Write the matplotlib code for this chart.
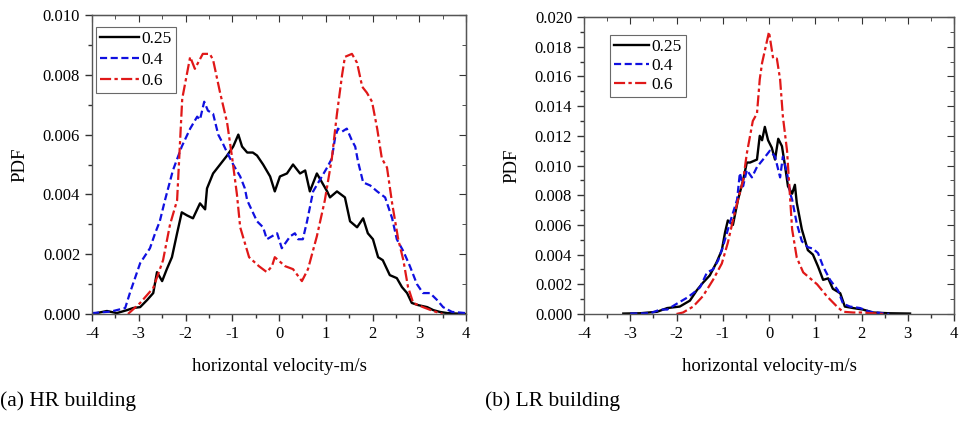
import matplotlib
matplotlib.use("Agg")
import matplotlib.pyplot as plt
from matplotlib.ticker import MultipleLocator, FormatStrFormatter

plt.rcParams['font.family'] = ['Liberation Serif', 'DejaVu Serif']
plt.rcParams['axes.unicode_minus'] = False

# ---------------- data: (a) HR building ----------------
hr_x_025 = [-4.0, -3.68, -3.47, -3.25, -3.12, -2.97, -2.82, -2.69, -2.61, -2.5, -2.4, -2.29, -2.18, -2.08,
            -1.97, -1.84, -1.69, -1.58, -1.54, -1.41, -1.26, -1.11, -0.98, -0.87, -0.79, -0.68, -0.56,
            -0.47, -0.34, -0.19, -0.09, 0.02, 0.17, 0.3, 0.45, 0.56, 0.66, 0.81, 0.92, 1.03, 1.09,
            1.24, 1.41, 1.52, 1.67, 1.8, 1.9, 2.01, 2.12, 2.22, 2.37, 2.52, 2.63, 2.74, 2.84, 2.97,
            3.17, 3.3, 3.44, 3.6, 4.0]
hr_y_025 = [0.0, 0.0001, 0.00003, 0.00013, 0.0002, 0.00023, 0.00047, 0.0007, 0.0014, 0.0011, 0.0015, 0.0019,
            0.0027, 0.0034, 0.0033, 0.0032, 0.0037, 0.0035, 0.0042, 0.0047, 0.005, 0.0053, 0.0056, 0.006,
            0.0056, 0.0054, 0.0054, 0.0053, 0.005, 0.0046, 0.0041, 0.0046, 0.0047, 0.005, 0.0047, 0.0048,
            0.0041, 0.0047, 0.0044, 0.0041, 0.0039, 0.0041, 0.0039, 0.0031, 0.0029, 0.0032, 0.0027, 0.0025,
            0.0019, 0.0018, 0.0013, 0.0012, 0.0009, 0.0007, 0.00037, 0.0003, 0.00023, 0.00013, 0.00007,
            0.00003, 0.0]

hr_x_04 = [-4.0, -3.6, -3.29, -3.19, -2.97, -2.76, -2.65, -2.55, -2.44, -2.27, -2.08, -1.9, -1.75, -1.69,
           -1.6, -1.52, -1.41, -1.3, -1.2, -1.11, -0.98, -0.83, -0.73, -0.68, -0.47, -0.34, -0.26, -0.04,
           0.06, 0.24, 0.34, 0.41, 0.51, 0.6, 0.73, 0.88, 1.03, 1.13, 1.2, 1.26, 1.35, 1.45, 1.56, 1.63,
           1.69, 1.8, 1.95, 2.1, 2.27, 2.42, 2.52, 2.66, 2.8, 2.95, 3.08, 3.23, 3.38, 3.51, 3.7, 4.0]
hr_y_04 = [0.00003, 0.00008, 0.0002, 0.0007, 0.0017, 0.0022, 0.0027, 0.0031, 0.0038, 0.0048, 0.0056, 0.0062,
           0.0066, 0.0065, 0.0071, 0.0068, 0.0067, 0.006, 0.0057, 0.0054, 0.005, 0.0046, 0.0042, 0.0038,
           0.0031, 0.0029, 0.0025, 0.0027, 0.0022, 0.0026, 0.0027, 0.0025, 0.0025, 0.0031, 0.0041, 0.0045,
           0.0049, 0.0052, 0.0059, 0.0062, 0.0061, 0.0062, 0.0058, 0.0056, 0.0051, 0.0044, 0.0043, 0.0041,
           0.0039, 0.0032, 0.0025, 0.0021, 0.0016, 0.001, 0.0007, 0.0007, 0.00047, 0.00023, 0.00007, 0.00003]

hr_x_06 = [-3.23, -2.97, -2.69, -2.48, -2.33, -2.18, -2.07, -1.9, -1.8, -1.63, -1.48, -1.41, -1.26, -1.11,
           -1.0, -0.9, -0.83, -0.64, -0.43, -0.26, -0.15, -0.09, 0.13, 0.3, 0.49, 0.62, 0.81, 0.98, 1.13,
           1.24, 1.35, 1.41, 1.56, 1.67, 1.78, 1.88, 1.99, 2.1, 2.2, 2.31, 2.42, 2.55, 2.66, 2.76, 2.87,
           3.08, 3.3, 3.5]
hr_y_06 = [0.0, 0.00037, 0.00087, 0.0018, 0.003, 0.0038, 0.0072, 0.0086, 0.0082, 0.0087, 0.0087, 0.0085,
           0.0074, 0.0064, 0.0052, 0.004, 0.0029, 0.0019, 0.0016, 0.0014, 0.0016, 0.0019, 0.0016, 0.0015,
           0.0011, 0.0015, 0.0026, 0.0038, 0.0052, 0.0067, 0.008, 0.0086, 0.0087, 0.0084, 0.0076, 0.0074,
           0.0071, 0.0062, 0.0052, 0.0049, 0.0037, 0.0025, 0.0018, 0.0009, 0.00037, 0.00023, 0.0001, 0.0]

# ---------------- data: (b) LR building ----------------
lr_x_025 = [-3.15, -2.79, -2.42, -2.2, -1.93, -1.71, -1.56, -1.43, -1.28, -1.13, -1.02, -0.95, -0.89, -0.78,
            -0.67, -0.56, -0.48, -0.41, -0.26, -0.2, -0.15, -0.09, -0.02, 0.06, 0.13, 0.2, 0.28, 0.35, 0.41,
            0.5, 0.56, 0.6, 0.71, 0.84, 0.95, 1.06, 1.17, 1.28, 1.38, 1.54, 1.64, 1.82, 2.03, 2.25, 2.6, 3.05]
lr_y_025 = [0.00003, 0.00005, 0.00015, 0.0004, 0.0005, 0.0009, 0.0016, 0.0021, 0.0026, 0.0035, 0.0043, 0.0055,
            0.0063, 0.006, 0.0077, 0.009, 0.0102, 0.0102, 0.0104, 0.012, 0.0117, 0.0126, 0.0117, 0.0112,
            0.0104, 0.0118, 0.0113, 0.0099, 0.0086, 0.0081, 0.0087, 0.0075, 0.0057, 0.0043, 0.004, 0.0032,
            0.0023, 0.0024, 0.0017, 0.0014, 0.0005, 0.0004, 0.0003, 0.0001, 0.00005, 0.00003]

lr_x_04 = [-3.0, -2.57, -2.35, -2.2, -1.99, -1.77, -1.64, -1.49, -1.34, -1.21, -1.1, -1.0, -0.84, -0.69,
           -0.63, -0.56, -0.48, -0.37, -0.26, -0.13, 0.02, 0.13, 0.24, 0.3, 0.39, 0.46, 0.5, 0.6, 0.71, 0.84,
           0.95, 1.06, 1.17, 1.32, 1.49, 1.6, 1.75, 1.97, 2.18, 2.47, 2.6]
lr_y_04 = [0.00003, 0.00005, 0.0003, 0.0003, 0.0007, 0.0011, 0.0014, 0.0018, 0.0028, 0.003, 0.0036, 0.0045,
           0.0062, 0.0077, 0.0095, 0.0086, 0.0097, 0.0092, 0.0099, 0.0104, 0.011, 0.0106, 0.0092, 0.0106,
           0.0095, 0.0081, 0.0077, 0.0061, 0.0049, 0.0045, 0.0044, 0.0041, 0.0032, 0.0023, 0.0016, 0.0007,
           0.0005, 0.0004, 0.00015, 0.00005, 0.0]

lr_x_06 = [-2.0, -1.86, -1.64, -1.43, -1.21, -1.02, -0.89, -0.78, -0.67, -0.56, -0.48, -0.35, -0.26, -0.2,
           -0.15, 0.0, 0.09, 0.17, 0.24, 0.3, 0.39, 0.5, 0.6, 0.74, 0.89, 1.04, 1.25, 1.47, 1.6, 1.82, 2.0, 2.5]
lr_y_06 = [0.0, 0.0001, 0.0005, 0.0012, 0.0023, 0.0034, 0.0048, 0.0063, 0.0077, 0.009, 0.0108, 0.013, 0.0135,
           0.0158, 0.0169, 0.019, 0.0172, 0.0172, 0.0158, 0.0133, 0.011, 0.0057, 0.0038, 0.0028, 0.0024,
           0.002, 0.0012, 0.0005, 0.00015, 0.0001, 0.0001, 0.0]

series_labels = ['0.25', '0.4', '0.6']
x_ticks = [-4, -3, -2, -1, 0, 1, 2, 3, 4]
captions = ['(a) HR building', '(b) LR building']
xlabel = 'horizontal velocity-m/s'
ylabel = 'PDF'

colors = ['black', '#1010e0', '#e01818']
styles = [dict(ls='-', lw=1.7), dict(ls=(0, (3.2, 1.6)), lw=1.6), dict(ls=(0, (5, 1.5, 1.5, 1.5)), lw=1.6)]

fig = plt.figure(figsize=(9.59, 4.21), dpi=100)
W, H = 959, 421
ax1 = fig.add_axes([92 / W, 1 - 314 / H, (466 - 92) / W, (314 - 15) / H])
ax2 = fig.add_axes([584 / W, 1 - 314 / H, (954 - 584) / W, (314 - 17) / H])

panels = [
    (ax1, [(hr_x_025, hr_y_025), (hr_x_04, hr_y_04), (hr_x_06, hr_y_06)], 0.010),
    (ax2, [(lr_x_025, lr_y_025), (lr_x_04, lr_y_04), (lr_x_06, lr_y_06)], 0.020),
]

for ax, data, ymax in panels:
    for (xs, ys), lab, c, st in zip(data, series_labels, colors, styles):
        ax.plot(xs, ys, color=c, label=lab, **st)
    ax.set_xlim(-4, 4)
    ax.set_ylim(0, ymax)
    ax.set_xticks(x_ticks)
    ax.set_xticklabels([str(t) for t in x_ticks])
    ax.xaxis.set_minor_locator(MultipleLocator(0.5))
    ax.yaxis.set_major_locator(MultipleLocator(0.002))
    ax.yaxis.set_minor_locator(MultipleLocator(0.001))
    ax.yaxis.set_major_formatter(FormatStrFormatter('%.3f'))
    ax.tick_params(which='both', direction='out', labelsize=12, width=1.0, color='#333333')
    ax.tick_params(which='major', length=5)
    ax.tick_params(which='minor', length=3)
    for sp in ax.spines.values():
        sp.set_color('#555555')
        sp.set_linewidth(1.0)
    ax.set_xlabel(xlabel, fontsize=13.5, labelpad=12)
    ax.set_ylabel(ylabel, fontsize=13.5, labelpad=10)
    # mirrored inward ticks on top / right
    sx = ax.secondary_xaxis('top')
    sx.set_xticks(x_ticks)
    sx.xaxis.set_minor_locator(MultipleLocator(0.5))
    sx.tick_params(which='both', direction='in', labeltop=False, color='#333333')
    sx.tick_params(which='major', length=5)
    sx.tick_params(which='minor', length=3)
    sy = ax.secondary_yaxis('right')
    sy.yaxis.set_major_locator(MultipleLocator(0.002))
    sy.yaxis.set_minor_locator(MultipleLocator(0.001))
    sy.tick_params(which='both', direction='in', labelright=False, color='#333333')
    sy.tick_params(which='major', length=5)
    sy.tick_params(which='minor', length=3)

leg_kw = dict(fontsize=12.5, frameon=True, fancybox=False, edgecolor='#444444', borderpad=0.25,
              labelspacing=0.26, handlelength=2.2, handletextpad=0.15, borderaxespad=0.0)
l1 = ax1.legend(loc='upper left', bbox_to_anchor=((96 - 92) / 374, 1 - (27 - 15) / 299), **leg_kw)
leg_kw2 = dict(leg_kw, handlelength=2.0, labelspacing=0.15)
l2 = ax2.legend(loc='upper left', bbox_to_anchor=((610 - 584) / 370, 1 - (35 - 17) / 297), **leg_kw2)
for lg in (l1, l2):
    lg.get_frame().set_linewidth(0.8)

fig.text(0 / W, 1 - 401 / H, captions[0], fontsize=15.5, va='center', ha='left')
fig.text(485 / W, 1 - 401 / H, captions[1], fontsize=15.5, va='center', ha='left')

fig.savefig('out.png', dpi=100)
